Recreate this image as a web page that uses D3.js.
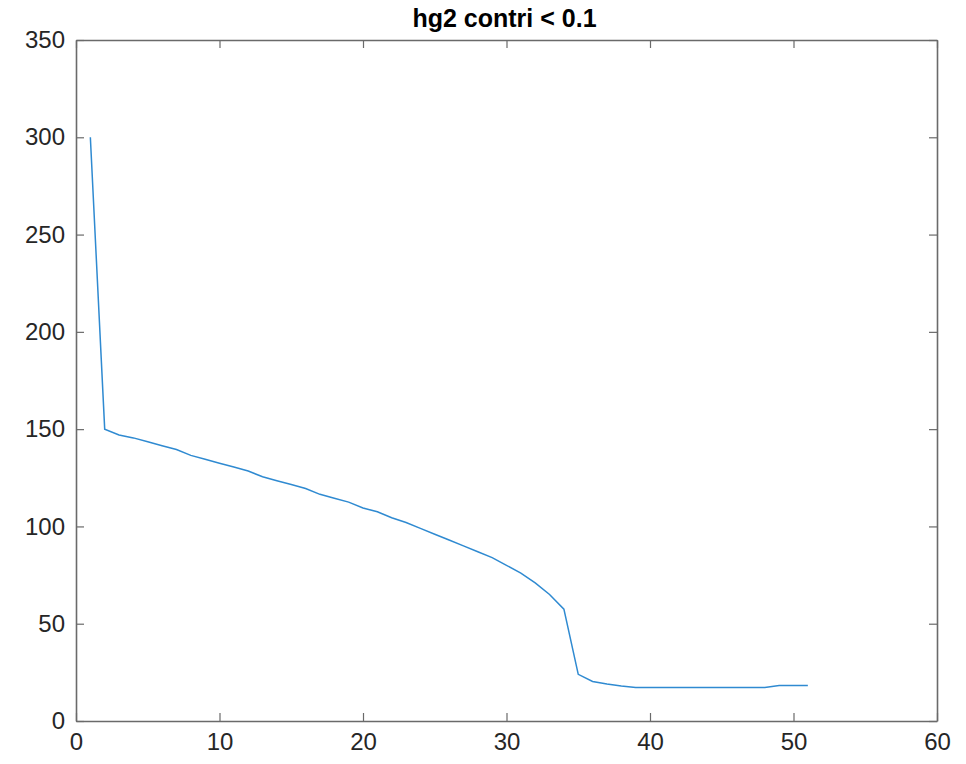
<!DOCTYPE html>
<html>
<head>
<meta charset="utf-8">
<script src="https://cdn.jsdelivr.net/npm/d3@7"></script>
<style>
  body { margin: 0; background: #fff; }
  text { font-family: "Liberation Sans", Arial, Helvetica, sans-serif; }
</style>
</head>
<body>
<svg id="viz"></svg>
<script>
// values
var xValues = [1, 2, 3, 4, 5, 6, 7, 8, 9, 10,
	11, 12, 13, 14, 15, 16, 17, 18, 19, 20,
	21, 22, 23, 24, 25, 26, 27, 28, 29, 30,
	31, 32, 33, 34, 35, 36, 37, 38, 39, 40,
	41, 42, 43, 44, 45, 46, 47, 48, 49, 50, 51];
var yValues = [300, 150, 147, 145.5, 143.5, 141.5, 139.5, 136.5, 134.5, 132.5,
	130.5, 128.5, 125.5, 123.5, 121.5, 119.5, 116.5, 114.5, 112.5, 109.5,
	107.5, 104.5, 102, 99, 96, 93, 90, 87, 84, 80,
	76, 71, 65, 57.5, 24, 20.3, 19, 18, 17.2, 17.2,
	17.2, 17.2, 17.2, 17.2, 17.2, 17.2, 17.2, 17.2, 18.2, 18.2, 18.2];
var xTicks = [0, 10, 20, 30, 40, 50, 60];
var yTicks = [0, 50, 100, 150, 200, 250, 300, 350];
var title = "hg2 contri < 0.1";

var margin = { top: 40, right: 29, bottom: 43, left: 76 },
	width = 966 - margin.left - margin.right,
	height = 764 - margin.top - margin.bottom;

var svg = d3.select('#viz')
	.attr('width', 966)
	.attr('height', 764);
var g = svg.append('g')
	.attr('transform', 'translate(' + margin.left + ',' + margin.top + ')');

var x = d3.scaleLinear().domain([0, 60]).range([0, width]);
var y = d3.scaleLinear().domain([0, 350]).range([height, 0]);

var axisColor = '#6a6a6a';
var tickLen = 8;

/* axes, matlab style: ticks point inward, box all round */
var xAxis = d3.axisBottom(x).tickValues(xTicks).tickSizeInner(-tickLen).tickSizeOuter(0).tickPadding(12);
var yAxis = d3.axisLeft(y).tickValues(yTicks).tickSizeInner(-tickLen).tickSizeOuter(0).tickPadding(11);
var xTop = d3.axisTop(x).tickValues(xTicks).tickSizeInner(-tickLen).tickSizeOuter(0).tickFormat('');
var yRight = d3.axisRight(y).tickValues(yTicks).tickSizeInner(-tickLen).tickSizeOuter(0).tickFormat('');

g.append('g').attr('transform', 'translate(0,' + height + ')').call(xAxis);
g.append('g').call(yAxis);
g.append('g').call(xTop);
g.append('g').attr('transform', 'translate(' + width + ',0)').call(yRight);

g.selectAll('.domain').attr('stroke', axisColor).attr('stroke-width', 1.6);
g.selectAll('.tick line').attr('stroke', axisColor).attr('stroke-width', 1.2);
g.selectAll('.tick text')
	.attr('fill', '#262626')
	.style('font-size', '24px');

/* data line */
var line = d3.line()
	.x(function(d, i) { return x(xValues[i]); })
	.y(function(d) { return y(d); });

g.append('path')
	.datum(yValues)
	.attr('d', line)
	.attr('fill', 'none')
	.attr('stroke', '#2f8ad1')
	.attr('stroke-width', 1.5);

svg.append('text')
	.attr('x', margin.left + width / 2 - 2)
	.attr('y', 27)
	.attr('text-anchor', 'middle')
	.style('font-size', '25px')
	.style('font-weight', 'bold')
	.attr('fill', '#000')
	.text(title);
</script>
</body>
</html>
